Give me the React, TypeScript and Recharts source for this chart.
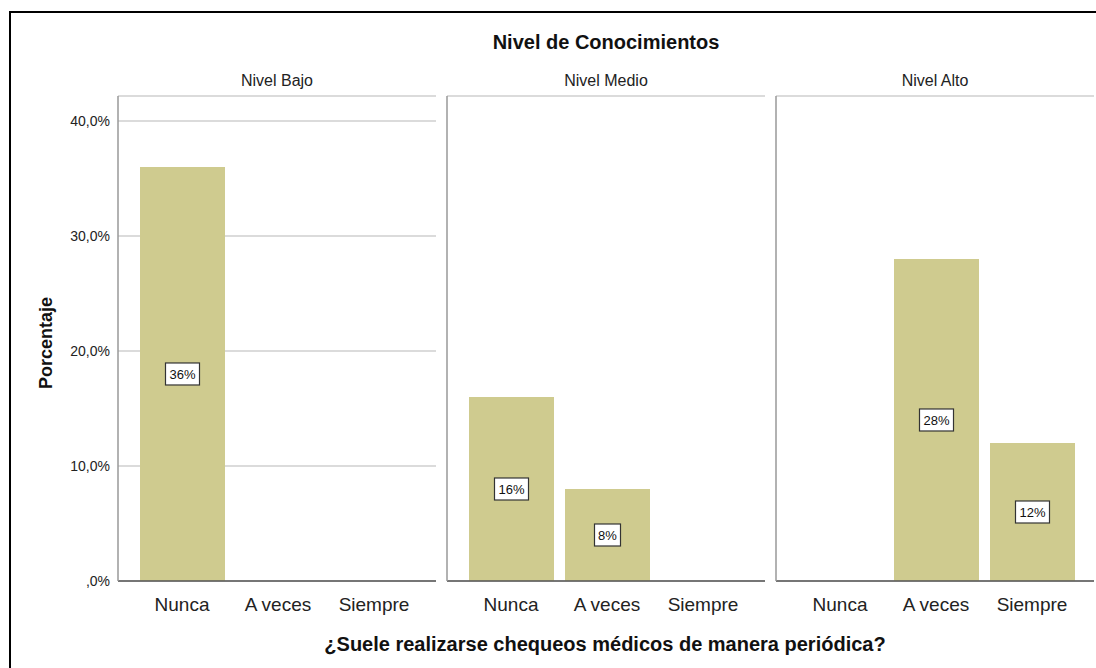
import { BarChart, Bar, XAxis, YAxis, CartesianGrid, LabelList } from "recharts";

const categories = ["Nunca", "A veces", "Siempre"];
const panelTitles = ["Nivel Bajo", "Nivel Medio", "Nivel Alto"];
const nivelBajo = [36, 0, 0];
const nivelMedio = [16, 8, 0];
const nivelAlto = [0, 28, 12];
const yTicks = [0, 10, 20, 30, 40];

const panels = [nivelBajo, nivelMedio, nivelAlto].map((vals) =>
	categories.map((cat, i) => ({ cat, pct: vals[i] }))
);

const FONT = "'Liberation Sans', Arial, sans-serif";
const BAR = "#CFCB8F";
const PLOT_W = 318;
const AXIS_W = 60;
const panelX = [118, 447, 776];

// white boxed value label at the middle of each bar
const BoxLabel = (props: any) => {
	const { x, y, width, height, value } = props;
	if (!value) return null;
	const txt = `${value}%`;
	const w = txt.length * 8 + 10;
	const cx = x + width / 2;
	const cy = y + height / 2;
	return (
		<g>
			<rect x={cx - w / 2} y={cy - 11} width={w} height={22} fill="#fff" stroke="#333" strokeWidth={1.2} />
			<text x={cx} y={cy + 5} textAnchor="middle" fontSize={13} fontFamily={FONT} fill="#111">
				{txt}
			</text>
		</g>
	);
};

function Panel({ idx }: { idx: number }) {
	return (
		<div style={{ position: "absolute", left: panelX[idx] - AXIS_W, top: 86 }}>
			<BarChart
				width={AXIS_W + PLOT_W + 2}
				height={535}
				data={panels[idx]}
				margin={{ top: 10, right: 2, left: 0, bottom: 0 }}
			>
				<CartesianGrid vertical={false} stroke="#cfcfcf" strokeWidth={1.5} />
				<XAxis
					dataKey="cat"
					axisLine={{ stroke: "#555", strokeWidth: 1.5 }}
					tickLine={false}
					tickMargin={11}
					height={40}
					padding={{ left: 16, right: 14 }}
					tick={{ fontSize: 19, fill: "#222", fontFamily: FONT }}
					interval={0}
				/>
				<YAxis
					width={AXIS_W}
					domain={[0, 42.17]}
					ticks={yTicks}
					allowDataOverflow
					axisLine={{ stroke: "#999", strokeWidth: 1.5 }}
					tickLine={false}
					tick={idx === 0 ? { fontSize: 14, fill: "#222", fontFamily: FONT } : false}
					tickFormatter={(v: number) => (v === 0 ? ",0%" : `${v},0%`)}
				/>
				<Bar dataKey="pct" fill={BAR} barSize={85} isAnimationActive={false}>
					<LabelList dataKey="pct" content={BoxLabel} />
				</Bar>
			</BarChart>
		</div>
	);
}

export default function App() {
	return (
		<div
			style={{
				position: "absolute",
				left: 0,
				top: 0,
				width: 1096,
				height: 668,
				background: "#fff",
				overflow: "hidden",
				fontFamily: FONT,
			}}
		>
			{/* frame: only top and left edges are visible in the reference */}
			<div
				style={{
					position: "absolute",
					left: 9,
					top: 11,
					width: 1200,
					height: 800,
					borderTop: "2px solid #000",
					borderLeft: "2px solid #000",
				}}
			/>
			{panels.map((_, i) => (
				<Panel key={i} idx={i} />
			))}
			<svg width={1096} height={668} style={{ position: "absolute", left: 0, top: 0, pointerEvents: "none" }}>
				<text x={606} y={49} textAnchor="middle" fontSize={20} fontWeight="bold" fontFamily={FONT} fill="#111">
					Nivel de Conocimientos
				</text>
				{panelTitles.map((t, i) => (
					<text key={t} x={panelX[i] + PLOT_W / 2} y={86} textAnchor="middle" fontSize={16} fontFamily={FONT} fill="#222">
						{t}
					</text>
				))}
				<text
					x={0}
					y={0}
					transform="translate(52 343) rotate(-90)"
					textAnchor="middle"
					fontSize={18}
					fontWeight="bold"
					fontFamily={FONT}
					fill="#111"
				>
					Porcentaje
				</text>
				<text x={605} y={651} textAnchor="middle" fontSize={20} fontWeight="bold" fontFamily={FONT} fill="#111">
					¿Suele realizarse chequeos médicos de manera periódica?
				</text>
			</svg>
		</div>
	);
}
